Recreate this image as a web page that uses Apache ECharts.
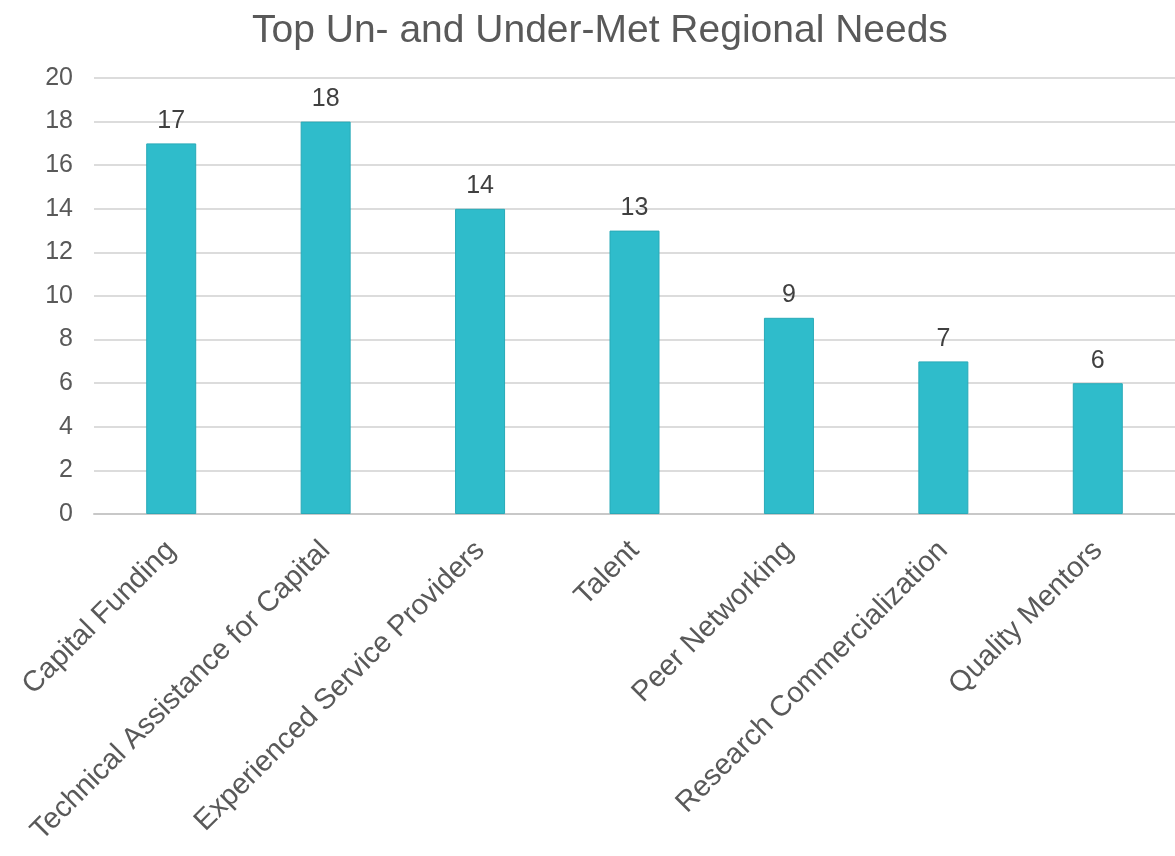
<!DOCTYPE html>
<html>
<head>
<meta charset="utf-8">
<script src="https://cdn.jsdelivr.net/npm/echarts@6/dist/echarts.min.js"></script>
<style>
  html, body { margin: 0; padding: 0; background: #ffffff; }
  #chart { width: 1175px; height: 856px; }
</style>
</head>
<body>
<div id="chart"></div>
<script>
// data
var categories = [
  "Capital Funding",
  "Technical Assistance for Capital",
  "Experienced Service Providers",
  "Talent",
  "Peer Networking",
  "Research Commercialization",
  "Quality Mentors"
];
var values = [17, 18, 14, 13, 9, 7, 6];

var myChart = echarts.init(document.getElementById("chart"));
var font = "Liberation Sans, Arial, sans-serif";

var options = {
  animation: false,
  title: {
    text: "Top Un- and Under-Met Regional Needs",
    left: 247,
    top: 7,
    textStyle: { color: "#595959", fontSize: 39, fontWeight: "normal", fontFamily: font }
  },
  grid: { left: 94, right: 0, top: 78, bottom: 342 },
  xAxis: {
    type: "category",
    data: categories,
    axisLine: { lineStyle: { color: "#c8c8c8", width: 2 } },
    axisTick: { show: false },
    axisLabel: {
      interval: 0,
      rotate: 45,
      color: "#595959",
      fontSize: 29,
      fontFamily: font,
      margin: 32
    }
  },
  yAxis: {
    type: "value",
    min: 0,
    max: 20,
    interval: 2,
    axisLine: { show: false },
    axisTick: { show: false },
    axisLabel: { color: "#595959", fontSize: 25, fontFamily: font, margin: 21 },
    splitLine: { lineStyle: { color: "#d0d0d0", width: 1.5 } }
  },
  series: [
    {
      type: "bar",
      data: values,
      barWidth: 50,
      itemStyle: { color: "#2fbccb", borderColor: "#29aab8", borderWidth: 1 },
      label: {
        show: true,
        position: "top",
        distance: 10,
        color: "#404040",
        fontSize: 25,
        fontFamily: font
      }
    }
  ]
};
myChart.setOption(options);
</script>
</body>
</html>
